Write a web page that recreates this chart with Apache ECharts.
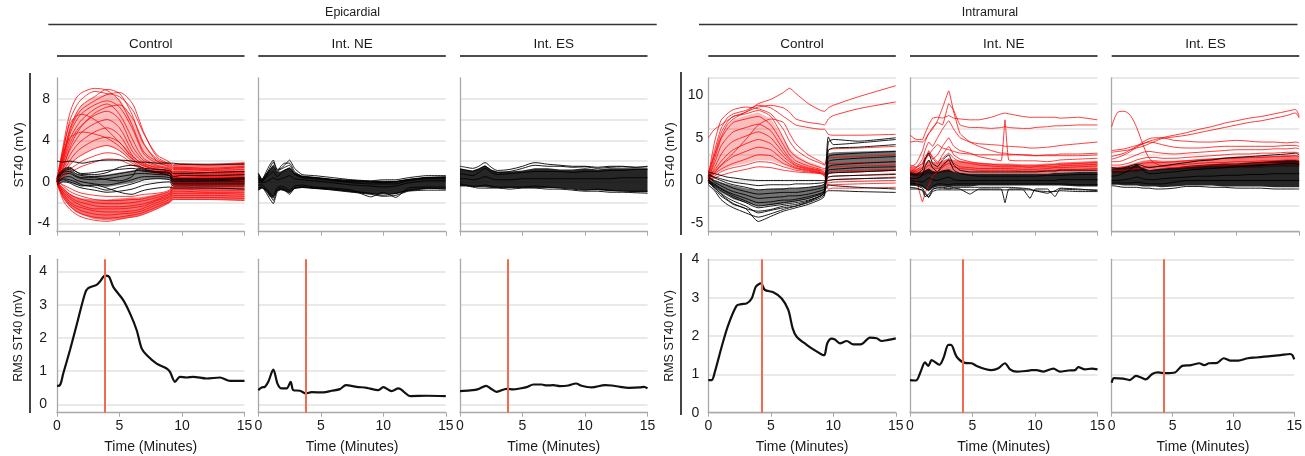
<!DOCTYPE html>
<html><head><meta charset="utf-8">
<script src="https://cdn.jsdelivr.net/npm/echarts@6/dist/echarts.min.js"></script>
<style>html,body{margin:0;padding:0;background:#fff}#c{width:1305px;height:456px}</style>
</head><body><div id="c"></div><script>
// ---------------- DATA ----------------
const GROUPS = ['Epicardial', 'Intramural'];
const CONDITIONS = ['Control', 'Int. NE', 'Int. ES'];
const X_TICKS = [0, 5, 10, 15];
const EPI_ST_LABELS = [-4, 0, 4, 8];
const EPI_ST_GRID = [-4, -2, 0, 2, 4, 6, 8];
const INTRA_ST_LABELS = [-5, 0, 5, 10];
const RMS_LABELS = [0, 1, 2, 3, 4];
const EVENT_EPI = 3.8;
const EVENT_INTRA = 4.25;

// Epicardial Control
const EC_T = [0, 0.5, 1, 1.5, 2, 3, 4, 5, 6, 6.5, 7, 8, 9, 9.3, 10, 12, 15];
const EC_RED = [
 [0.2, 3.5, 6.5, 8, 8.6, 9, 8.8, 7.8, 5.5, 4, 2.8, 2, 1.8, 1.6, 1.7, 1.6, 1.8],
 [0.1, 3, 5.8, 7.2, 8, 8.7, 8.5, 8.2, 7, 5.8, 4.5, 2.6, 1.9, 1.4, 1.4, 1.3, 1.5],
 [0, 2.6, 5, 6.5, 7.4, 8.2, 8.9, 8.5, 6.5, 4.8, 3.5, 2.2, 1.6, 1.2, 1.2, 1.1, 1.2],
 [0.3, 2.2, 4.5, 5.8, 6.6, 7.4, 7.8, 7.2, 5.2, 3.8, 2.6, 1.8, 1.5, 1, 1, 0.9, 1],
 [0, 2, 4, 5.2, 6, 7, 7.5, 6.5, 4.2, 3, 2.2, 1.6, 1.3, 0.8, 0.8, 0.7, 0.8],
 [0.2, 1.8, 3.6, 4.8, 5.5, 6.4, 6.8, 6, 3.5, 2.6, 2, 1.5, 1.2, 0.6, 0.6, 0.5, 0.6],
 [0, 1.5, 3, 4, 4.8, 5.6, 6, 5.2, 3, 2.3, 1.8, 1.3, 1, 0.5, 0.4, 0.4, 0.5],
 [0.1, 1.2, 2.5, 3.4, 4, 4.8, 5.2, 4.5, 2.6, 2, 1.6, 1.2, 1, 0.3, 0.3, 0.2, 0.3],
 [0, 1, 2, 2.8, 3.3, 4, 4.3, 3.8, 2.3, 1.8, 1.5, 1.1, 0.9, 0.2, 0.2, 0.1, 0.2],
 [0.2, 0.8, 1.6, 2.2, 2.6, 3.2, 3.5, 3, 2, 1.6, 1.3, 1, 0.8, 0, 0, 0, 0.1],
 [0, 0.6, 1.2, 1.6, 2, 2.5, 2.8, 2.6, 1.8, 1.5, 1.2, 0.9, 0.7, -0.1, -0.1, -0.2, 0],
 [0, 0.5, 0.9, 1.2, 1.5, 1.9, 2.2, 2.1, 1.6, 1.4, 1.1, 0.8, 0.6, -0.2, -0.3, -0.3, -0.2],
 [0.1, 2.4, 4.8, 6.2, 7, 7.8, 8.4, 8.6, 7.6, 6.2, 4.6, 2.4, 1.7, 1.3, 1.3, 1.2, 1.4],
 [0, 1.4, 3.2, 4.5, 5.4, 6.6, 7.2, 7.4, 6.2, 5, 3.6, 2, 1.4, 0.9, 0.9, 0.8, 0.9],
 [0.3, 3.2, 5.5, 6.3, 6.5, 6, 5, 3.8, 2.5, 2, 1.7, 1.4, 1.2, 0.7, 0.7, 0.6, 0.7],
 [0.1, 2.8, 4.2, 4.6, 4.8, 4.6, 4.2, 3.4, 2.2, 1.8, 1.5, 1.2, 1, 0.4, 0.4, 0.3, 0.4],
 [0, -1.8, -2.6, -3.1, -3.4, -3.7, -3.8, -3.6, -3.4, -3.3, -3.1, -2.6, -2, -1.7, -1.7, -1.7, -1.8],
 [0, -1.5, -2.3, -2.8, -3.1, -3.4, -3.5, -3.4, -3.2, -3.1, -2.9, -2.4, -1.9, -1.5, -1.5, -1.5, -1.6],
 [-0.2, -1.3, -2.1, -2.5, -2.8, -3.1, -3.2, -3.1, -3, -2.9, -2.7, -2.2, -1.7, -1.3, -1.3, -1.3, -1.4],
 [0, -1.1, -1.9, -2.3, -2.5, -2.8, -2.9, -2.9, -2.8, -2.7, -2.5, -2, -1.5, -1.1, -1.1, -1.1, -1.2],
 [0.1, -1, -1.6, -2, -2.3, -2.6, -2.6, -2.6, -2.5, -2.4, -2.3, -1.8, -1.4, -0.9, -0.9, -1, -1],
 [0, -0.8, -1.4, -1.8, -2, -2.3, -2.4, -2.4, -2.3, -2.2, -2.1, -1.7, -1.2, -0.7, -0.7, -0.8, -0.8],
 [0, -0.6, -1.2, -1.5, -1.7, -2, -2.1, -2.1, -2, -1.9, -1.8, -1.5, -1.1, -0.5, -0.5, -0.6, -0.6],
 [0.2, -0.4, -0.9, -1.2, -1.4, -1.7, -1.8, -1.8, -1.7, -1.7, -1.6, -1.3, -0.9, -0.3, -0.3, -0.4, -0.4],
 [0, -0.3, -0.6, -0.9, -1.1, -1.3, -1.4, -1.4, -1.4, -1.3, -1.2, -1.1, -0.8, -0.2, -0.2, -0.2, -0.2]
];
const EC_RED_BAND_UP = [0, -0.6, -1.1, -1.4, -1.6, -1.7, -1.7, -1.6, -1.5, -1.5, -1.4, -1.2, -0.9, -0.5, -0.5, -0.5, -0.5];
const EC_RED_BAND_LO = [-0.4, -1.6, -2.4, -2.9, -3.2, -3.6, -3.7, -3.6, -3.4, -3.3, -3.1, -2.6, -2.0, -1.7, -1.7, -1.7, -1.8];
const EC_FAN_T = [0, 0.5, 1, 1.5, 2, 3, 4, 5, 6, 6.5, 7, 8, 9];
const EC_FAN_UP = [0.2, 2.8, 5.2, 6.6, 7.4, 8.2, 8.5, 8, 6.2, 4.8, 3.4, 2.1, 1.6];
const EC_FAN_LO = [0, 0.8, 1.6, 2.2, 2.6, 3.2, 3.5, 3, 2, 1.6, 1.3, 1.0, 0.8];
const EC_LATE_T = [9.3, 10, 12, 15];
const EC_LATE_UP = [1.7, 1.8, 1.7, 1.9];
const EC_LATE_LO = [-0.5, -0.5, -0.5, -0.5];
const EC_BLACK = [
 [2, 1.9, 2, 1.9, 1.8, 2, 2.1, 2.1, 2, 1.9, 1.9, 1.8, 1.8, 1.8, 1.7, 1.7, 1.7],
 [0.5, 1.2, 1.4, 1, 0.8, 0.9, 1.1, 1.2, 1.3, 1.2, 1.1, 1, 0.9, 0.5, 0.6, 0.6, 0.7],
 [0.2, 1, 1.2, 0.8, 0.6, 0.5, 0.6, 0.8, 1, 1.1, 1, 0.9, 0.8, 0.3, 0.3, 0.3, 0.4],
 [0, 0.7, 0.8, 0.5, 0.3, 0.2, 0.3, 0.5, 0.7, 0.8, 0.8, 0.7, 0.6, 0.1, 0.1, 0.1, 0.2],
 [-0.2, 0.4, 0.5, 0.2, 0, -0.2, -0.3, -0.1, 0.2, 0.4, 0.5, 0.5, 0.4, 0, 0, 0, 0],
 [0.1, 0.3, 0.2, 0, -0.3, -0.5, -0.8, -0.5, -0.2, 0, 0.2, 0.3, 0.2, -0.2, -0.2, -0.2, -0.2],
 [-0.3, 0, -0.1, -0.4, -0.6, -0.8, -1, -0.9, -0.7, -0.5, -0.3, -0.1, 0, -0.4, -0.4, -0.4, -0.4],
 [0.3, 0.9, 1.0, 0.6, 0.4, 0.4, 0.2, 0.1, 0.5, 1.3, 1.2, 0.9, 0.6, 0.2, 0.2, 0.2, 0.3],
 [0, 0.2, 0, -0.2, -0.4, -0.3, -0.6, -1, -1.2, -1, -0.8, -0.6, -0.5, -0.6, -0.6, -0.6, -0.7],
 [0.4, 1.1, 1.3, 1, 0.7, 0.7, 0.9, 1.4, 1.6, 1.5, 1.3, 1.2, 1.1, 0.8, 0.8, 0.9, 1]
];
const EC_BLACK_BAND_UP = [0.5, 1.1, 1.2, 0.8, 0.6, 0.6, 0.7, 0.9, 1.1, 1.2, 1.1, 1.0, 0.9, 0.4, 0.4, 0.4, 0.5];
const EC_BLACK_BAND_LO = [-0.3, 0, 0, -0.3, -0.4, -0.4, -0.5, -0.3, -0.1, 0.1, 0.2, 0.3, 0.2, -0.3, -0.3, -0.3, -0.3];

// Epicardial Int. NE
const EN_T = [0, 0.3, 0.6, 0.9, 1.2, 1.5, 1.8, 2.1, 2.5, 2.9, 3.5, 4.5, 6, 7.5, 9, 10, 11, 12, 13.5, 15];
const EN_BLACK_BAND_UP = [0.9, 0.3, 0.8, 1.2, 1.6, 1.0, 1.0, 1.2, 1.4, 0.9, 0.6, 0.5, 0.3, 0.2, 0.1, 0.1, 0.1, 0.3, 0.5, 0.5];
const EN_BLACK_BAND_LO = [-0.8, -0.6, -0.9, -1.4, -1.6, -0.9, -0.8, -0.9, -1.1, -0.7, -0.6, -0.7, -0.8, -1.0, -1.2, -1.2, -1.2, -0.9, -0.7, -0.7];
const EN_BLACK = [
 [0.8, 0.2, 0.9, 1.6, 2.1, 1.2, 1.3, 1.6, 2.1, 1.3, 0.7, 0.6, 0.4, 0.2, 0.1, 0.2, 0.2, 0.4, 0.6, 0.6],
 [0.5, 0, 0.5, 1.1, 1.6, 0.9, 1.5, 1.8, 1.8, 1.0, 0.5, 0.4, 0.2, 0, 0, 0, 0, 0.2, 0.4, 0.4],
 [-0.6, -0.5, -1.0, -1.6, -2.1, -1.0, -0.7, -0.8, -1.2, -0.6, -0.5, -0.6, -0.7, -0.9, -1.1, -1.3, -1.1, -0.8, -0.6, -0.7],
 [-0.3, -0.3, -0.6, -1.0, -1.4, -0.6, -0.4, -0.5, -0.8, -0.4, -0.3, -0.5, -0.6, -0.8, -1.45, -1.0, -1.5, -0.6, -0.5, -0.5],
 [0.3, 0.1, 0.4, 0.7, 1.0, 0.5, 0.8, 1.1, 1.3, 0.7, 0.4, 0.3, 0.1, -0.1, -0.2, -0.2, -0.2, 0.1, 0.3, 0.3],
 [0, -0.1, 0, 0.2, 0.4, 0.2, 0.3, 0.4, 0.6, 0.3, 0.2, 0.1, -0.1, -0.3, -0.4, -0.5, -0.4, -0.1, 0.1, 0.1],
 [0.2, 0, 0.6, 1.3, 1.9, 1.1, 1.2, 1.4, 1.6, 0.8, 0.5, 0.4, 0.2, 0.1, 0, -0.1, 0, 0.2, 0.4, 0.5],
 [-0.8, -0.6, -0.7, -1.2, -1.8, -0.8, -0.6, -0.7, -1.0, -0.6, -0.5, -0.6, -0.8, -1.0, -1.2, -1.4, -1.3, -0.9, -0.8, -0.8]
];

// Epicardial Int. ES
const ES_T = [0, 0.5, 1, 1.5, 2, 2.5, 3, 4, 5, 6, 7, 8, 9, 10, 11, 12, 13, 14, 15];
const ES_BLACK_BAND_UP = [1.3, 1.2, 1.1, 1.3, 1.6, 1.2, 1.0, 1.0, 1.1, 1.3, 1.3, 1.2, 1.2, 1.3, 1.2, 1.3, 1.3, 1.3, 1.3];
const ES_BLACK_BAND_LO = [-0.4, -0.4, -0.5, -0.5, -0.5, -0.6, -0.6, -0.6, -0.6, -0.6, -0.6, -0.6, -0.7, -0.8, -0.8, -0.9, -0.9, -1.0, -1.0];
const ES_BLACK = [
 [1.5, 1.4, 1.3, 1.5, 1.85, 1.4, 1.1, 1.2, 1.5, 1.85, 1.7, 1.6, 1.5, 1.5, 1.4, 1.5, 1.5, 1.4, 1.5],
 [1.2, 1.1, 1.0, 1.2, 1.5, 1.1, 0.9, 1.0, 1.3, 1.6, 1.5, 1.5, 1.4, 1.45, 1.3, 1.4, 1.45, 1.4, 1.45],
 [-0.4, -0.4, -0.5, -0.6, -0.6, -0.6, -0.6, -0.7, -0.6, -0.6, -0.7, -0.7, -0.8, -0.9, -0.9, -1.0, -1.0, -1.05, -1.1],
 [-0.2, -0.3, -0.4, -0.4, -0.3, -0.4, -0.5, -0.5, -0.5, -0.4, -0.5, -0.6, -0.7, -0.8, -0.7, -0.8, -0.9, -0.9, -0.9],
 [0.8, 0.7, 0.6, 0.9, 1.3, 0.9, 0.7, 0.8, 0.9, 1.0, 1.0, 1.0, 0.9, 1.0, 1.0, 1.1, 1.1, 1.2, 1.2],
 [0.3, 0.3, 0.2, 0.3, 0.5, 0.3, 0.2, 0.2, 0.3, 0.3, 0.3, 0.3, 0.3, 0.3, 0.3, 0.3, 0.4, 0.4, 0.4]
];

// Intramural Control
const IC_T = [0, 0.5, 1, 1.5, 2, 3, 4, 5, 6, 6.5, 7, 8, 9, 9.3, 9.6, 10, 12, 15];
const IC_RED = [
 [5, 6, 6.5, 7, 7.5, 8, 9, 9.5, 10.3, 10.8, 10.2, 9, 8.2, 8.1, 8.5, 8.8, 9.8, 11.1],
 [1, 3, 5, 6.5, 7.2, 8, 8.6, 8.8, 8.5, 8, 7.2, 6.8, 6.6, 6.5, 7.2, 7.6, 8.4, 9.2],
 [0.5, 3.5, 6, 7.3, 7.8, 8.2, 8.8, 8.5, 7.5, 7, 6.5, 6.2, 6, 6, 5.4, 5.3, 5.3, 5.4],
 [0.3, 3, 5.5, 6.8, 7.5, 7.8, 8.2, 7.5, 5, 3.5, 2.8, 2, 1.5, 1.4, 1.5, 1.6, 1.7, 1.8],
 [0, 2.5, 4.8, 6, 6.8, 7.2, 7.5, 6.5, 4.2, 3, 2.3, 1.7, 1.3, 1.2, 0.8, 0.9, 1, 1.2],
 [0.2, 2, 4, 5, 5.7, 6.2, 6.6, 5.8, 3.6, 2.6, 2, 1.5, 1.2, 1, 0.4, 0.5, 0.6, 0.8],
 [0, 1.5, 3, 4, 4.6, 5.2, 5.7, 5, 3.2, 2.4, 1.8, 1.4, 1.1, 0.9, 0, 0.1, 0.2, 0.4],
 [0.4, 1.2, 2.2, 3, 3.6, 4.3, 4.8, 4.3, 2.8, 2.2, 1.7, 1.3, 1, 0.8, -0.3, -0.2, -0.1, 0],
 [0, 0.9, 1.7, 2.3, 2.8, 3.4, 3.9, 3.6, 2.4, 1.9, 1.5, 1.2, 0.9, 0.7, -0.6, -0.5, -0.4, -0.3],
 [0.2, 0.8, 1.3, 1.7, 2, 2.5, 3, 2.9, 2, 1.7, 1.4, 1.1, 0.9, 0.7, 2.0, 2.0, 2.1, 2.2],
 [0, 0.5, 1, 1.3, 1.5, 1.8, 2.2, 2.1, 1.6, 1.4, 1.2, 1, 0.8, 0.6, 1, 1.1, 1.2, 1.3],
 [0.5, 4.5, 7, 7.8, 8.3, 8.6, 8.4, 7.8, 6, 4.6, 3.6, 2.6, 2, 1.8, 3.6, 3.7, 3.8, 4],
 [0.3, 1, 1.8, 2.5, 3.2, 4.8, 6.5, 7.2, 6.8, 5.5, 4.3, 3, 2.2, 1.9, 2.6, 2.7, 2.8, 3],
 [0.1, 0.3, 0.6, 0.8, 1, 1.3, 1.6, 1.5, 1.2, 1.1, 1, 0.9, 0.8, 0.5, -1, -0.9, -0.9, -0.8]
];
const IC_FAN_T = [0, 0.5, 1, 1.5, 2, 3, 4, 5, 6, 6.5, 7, 8, 9];
const IC_FAN_UP = [0.3, 2.8, 5.2, 6.4, 7.1, 7.6, 8.0, 7.2, 5, 3.8, 3, 2.2, 1.7];
const IC_FAN_LO = [0, 0.6, 1.1, 1.4, 1.7, 2.0, 2.4, 2.3, 1.8, 1.5, 1.3, 1.1, 0.9];
const IC_BLACK = [
 [0, -1, -1.8, -2.3, -2.8, -3.3, -4.8, -4.2, -3.6, -3.4, -3.2, -2.8, -2.2, -1.8, 4.5, 4.8, 4.6, 5],
 [0.2, -0.8, -1.5, -2, -2.4, -3, -3.8, -3.5, -3.2, -3.1, -3, -2.6, -2, -1.6, 3.5, 3.8, 3.9, 4.2],
 [-0.3, -0.6, -1.2, -1.6, -2, -2.6, -3.2, -3, -2.8, -2.7, -2.6, -2.3, -1.8, -1.4, 2.8, 3, 3.2, 3.4],
 [0, -0.4, -0.9, -1.3, -1.6, -2.1, -2.6, -2.5, -2.3, -2.3, -2.2, -1.9, -1.5, -1.2, 2.2, 2.4, 2.6, 2.8],
 [0.5, -0.2, -0.6, -1, -1.3, -1.7, -2.1, -2, -1.9, -1.8, -1.8, -1.6, -1.2, -1, 1.6, 1.8, 2, 2.2],
 [0.3, 0, -0.3, -0.6, -0.9, -1.3, -1.6, -1.5, -1.4, -1.4, -1.4, -1.2, -0.9, -0.7, 1.2, 1.3, 1.5, 1.6],
 [0.8, 0.3, 0, -0.3, -0.5, -0.8, -1.1, -1, -1, -0.9, -0.9, -0.8, -0.6, -0.4, 0.8, 0.9, 1, 1.2],
 [0.6, 0.4, 0.2, 0, -0.2, -0.4, -0.6, -0.5, -0.5, -0.5, -0.4, -0.4, -0.3, -0.2, 0.4, 0.5, 0.6, 0.7],
 [1, 0.8, 0.6, 0.4, 0.3, 0.1, 0, 0, 0, 0, 0, 0, 0, 0, 0, 0.1, 0.2, 0.3],
 [-0.5, -1.2, -2.2, -2.8, -3.2, -3.8, -4.3, -3.9, -3.4, -3.2, -3, -2.5, -1.8, -1.2, 5.1, 4.2, 4.4, 4.8],
 [0, -0.5, -1, -1.4, -1.8, -2.4, -3, -2.8, -2.6, -2.5, -2.4, -2.1, -1.6, -1.3, -0.5, -0.6, -0.8, -1],
 [-0.2, -0.8, -1.6, -2.2, -2.7, -3.3, -3.6, -3.4, -3, -2.9, -2.8, -2.4, -1.8, -1.5, -1.2, -1.2, -1.3, -1.4]
];
const IC_BLACK_BAND_UP = [0.5, 0, -0.2, -0.4, -0.6, -0.9, -1.1, -1.0, -0.9, -0.9, -0.9, -0.8, -0.6, -0.4, 3.2, 3.3, 3.4, 3.5];
const IC_BLACK_BAND_LO = [-0.3, -0.8, -1.4, -1.8, -2.2, -2.6, -3.0, -2.9, -2.7, -2.6, -2.5, -2.2, -1.7, -1.3, 0.8, 0.9, 1.0, 1.1];

// Intramural Int. NE
const IN_T = [0, 0.5, 1, 1.2, 1.5, 1.8, 2.2, 2.6, 3.1, 3.5, 4, 4.8, 5.5, 6.5, 7.3, 7.6, 7.9, 9, 9.6, 10, 11, 11.6, 12, 13.5, 15];
const IN_RED = [
 [1.5, 2, 3.5, 4.5, 5.5, 6, 7, 8.5, 10.5, 8, 5.5, 4.5, 4, 3.5, 3.2, 3.2, 3.1, 3, 3, 2.9, 2.9, 2.9, 2.9, 2.9, 3.0],
 [5.3, 4.8, 4.8, 5.5, 6.5, 7.3, 7.4, 7.3, 7.6, 7.3, 7.2, 7.1, 7.1, 7.4, 7.8, 7.9, 7.8, 7.5, 7.4, 7.4, 7.4, 7.4, 7.3, 7.4, 7.1],
 [4.5, 4.6, 4.5, 4.8, 5.5, 6.2, 6.8, 6.5, 9.0, 8.2, 6.5, 6.2, 6.2, 6.1, 6.2, 6.3, 6.2, 6.1, 6.1, 6.2, 6.3, 6.4, 6.4, 6.5, 6.5],
 [1.0, 1.5, 2.5, 3.5, 4.5, 4.0, 5.0, 6.0, 7.0, 6.0, 5.0, 4.5, 4.3, 4.2, 4.1, 4.0, 4.0, 3.9, 3.8, 3.8, 3.9, 4.0, 4.1, 4.3, 4.5],
 [1.5, 1.5, 2, 2.6, 3, 2.5, 3, 4, 5, 4, 3.5, 3.2, 2.8, 2.5, 2.3, 7.1, 2.4, 2.3, 2.3, 2.3, 2.2, 2.3, 2.4, 2.5, 2.6],
 [1.2, 1.0, 1.5, 2.2, 3.5, 2.6, 2, 3, 4, 3, 2.5, 2.2, 2, 1.9, 1.8, 1.8, 1.8, 1.7, 1.7, 1.7, 1.8, 1.9, 1.9, 2.0, 2.1],
 [0.5, 0, -2.5, -1.5, -0.5, 0.5, 1, 1.5, 2.5, 2, 1.6, 1.5, 1.4, 1.4, 1.4, 1.4, 1.4, 1.3, 1.3, 1.3, 1.4, 1.5, 1.5, 1.6, 1.7],
 [1.8, 1.6, 2, 2.8, 3.3, 2.8, 2.2, 2.6, 3.2, 2.6, 2.2, 2.0, 1.8, 1.7, 1.6, 1.6, 1.6, 1.6, 1.5, 1.6, 1.6, 1.6, 1.7, 1.8, 1.9],
 [0.8, 0.8, 1.0, 1.4, 1.8, 1.5, 1.4, 1.6, 2.0, 1.6, 1.4, 1.3, 1.2, 1.2, 1.2, 1.2, 1.2, 1.1, 1.1, 1.1, 1.2, 1.2, 1.3, 1.3, 1.4],
 [1.0, 1.2, 1.8, 2.4, 3, 3.6, 4.2, 3.8, 3.6, 3.4, 3.2, 3.1, 3.0, 3.0, 3.0, 3.0, 3.0, 3.0, 2.9, 2.9, 3.0, 3.0, 3.1, 3.1, 3.2]
];
const IN_RED_BAND_UP = [1.5, 1.4, 1.6, 2, 2.4, 2.2, 2.1, 2.3, 2.6, 2.4, 2.3, 2.2, 2.1, 2.0, 2.0, 2.0, 2.0, 1.9, 1.9, 1.9, 2.0, 2.0, 2.1, 2.2, 2.3];
const IN_RED_BAND_LO = [0.6, 0.5, 0.5, 0.6, 0.8, 0.7, 0.8, 0.9, 1.0, 0.9, 0.9, 0.8, 0.8, 0.8, 0.8, 0.8, 0.8, 0.8, 0.8, 0.8, 0.8, 0.9, 0.9, 1.0, 1.0];
const IN_BLACK_BAND_UP = [1.0, 0.9, 1.0, 1.2, 1.4, 1.1, 1.0, 1.2, 1.3, 1.0, 0.9, 0.8, 0.8, 0.8, 0.8, 0.8, 0.8, 0.8, 0.8, 0.8, 0.8, 0.9, 0.9, 1.0, 1.0];
const IN_BLACK_BAND_LO = [-0.6, -0.6, -0.8, -1.0, -1.2, -0.9, -0.7, -0.7, -0.8, -0.7, -0.7, -0.7, -0.6, -0.6, -0.6, -0.6, -0.6, -0.6, -0.6, -0.6, -0.6, -0.6, -0.6, -0.7, -0.7];
const IN_BLACK = [
 [-0.8, -0.9, -1.2, -1.9, -1.6, -1.0, -0.9, -0.9, -1.0, -0.9, -1.0, -1.6, -1.0, -1.0, -1.0, -2.6, -1.0, -1.0, -2.1, -1.0, -1.0, -1.9, -1.0, -1.1, -1.1],
 [-0.5, -0.6, -0.9, -1.4, -1.9, -1.1, -0.8, -0.8, -0.9, -0.8, -0.8, -0.8, -0.8, -0.8, -0.8, -0.8, -0.8, -0.9, -1.0, -1.2, -1.5, -1.2, -0.9, -1.0, -1.2],
 [0.8, 0.7, 1.3, 2.5, 3.2, 2, 1.6, 2.4, 3.0, 1.8, 1.2, 1.0, 1.0, 1.0, 1.0, 1.0, 1.0, 1.0, 1.0, 1.0, 1.1, 1.1, 1.2, 1.2, 1.2],
 [0.3, 0.2, 0.6, 1.6, 2.4, 1.5, 1.0, 1.8, 2.4, 1.2, 0.8, 0.6, 0.5, 0.5, 0.5, 0.5, 0.5, 0.5, 0.5, 0.5, 0.6, 0.6, 0.6, 0.7, 0.7],
 [0, -0.1, -0.2, 0, 0.3, 0.1, 0, 0.2, 0.4, 0.1, 0, 0, 0, 0, 0, 0, 0, 0, 0, 0, 0, 0, 0.1, 0.1, 0.1],
 [-0.3, -0.4, -0.6, -0.9, -1.2, -0.7, -0.4, -0.4, -0.5, -0.4, -0.4, -0.4, -0.4, -0.4, -0.4, -0.4, -0.4, -0.4, -0.4, -0.4, -0.4, -0.4, -0.4, -0.5, -0.5],
 [-1.0, -1.0, -1.1, -1.6, -2.0, -1.3, -1.1, -1.1, -1.1, -1.1, -1.1, -1.1, -1.1, -1.1, -1.1, -1.1, -1.1, -1.1, -1.1, -1.2, -1.3, -1.3, -1.2, -1.3, -1.3]
];

// Intramural Int. ES
const IS_T = [0, 0.5, 1, 1.5, 2, 2.5, 3, 3.5, 4, 5, 6, 7, 8, 9, 10, 11, 12, 13, 14, 14.7, 15];
const IS_RED = [
 [6.3, 8.0, 8.1, 7.6, 6.2, 4.2, 2.6, 2.0, 1.7, 1.5, 1.6, 1.7, 1.8, 1.8, 1.9, 1.9, 2.0, 2.0, 2.0, 2.0, 2.0],
 [3.5, 3.6, 3.7, 3.9, 4.1, 4.3, 4.6, 4.8, 5.0, 5.3, 5.6, 6.0, 6.3, 6.7, 7.0, 7.3, 7.5, 7.8, 8.1, 8.3, 7.5],
 [3.3, 3.4, 3.5, 3.6, 3.8, 4.0, 4.3, 4.6, 4.9, 5.1, 5.3, 5.6, 5.9, 6.2, 6.5, 6.8, 7.0, 7.3, 7.6, 7.9, 7.3],
 [2.8, 3.0, 3.2, 3.6, 4.0, 4.5, 4.9, 5.0, 5.0, 4.7, 4.6, 4.5, 4.5, 4.6, 4.7, 4.6, 4.5, 4.5, 4.4, 4.5, 4.4],
 [2.5, 2.7, 3.0, 3.4, 3.9, 4.3, 4.5, 4.4, 4.2, 3.9, 3.8, 3.8, 3.9, 4.0, 4.0, 4.0, 4.0, 4.0, 4.1, 4.1, 4.0],
 [2.2, 2.2, 2.4, 2.7, 3.0, 3.3, 3.4, 3.3, 3.2, 3.1, 3.2, 3.3, 3.4, 3.5, 3.6, 3.6, 3.6, 3.7, 3.7, 3.8, 3.7],
 [1.8, 1.8, 1.9, 2.1, 2.4, 2.6, 2.7, 2.7, 2.6, 2.6, 2.7, 2.8, 2.9, 3.0, 3.1, 3.1, 3.2, 3.2, 3.3, 3.3, 3.2],
 [1.5, 1.5, 1.6, 1.7, 1.9, 2.0, 2.1, 2.1, 2.1, 2.2, 2.3, 2.4, 2.5, 2.6, 2.6, 2.7, 2.7, 2.8, 2.8, 2.9, 2.8],
 [1.2, 1.2, 1.2, 1.3, 1.4, 1.5, 1.6, 1.6, 1.7, 1.8, 1.9, 2.0, 2.1, 2.1, 2.2, 2.2, 2.3, 2.3, 2.4, 2.4, 2.3]
];
const IS_RED_BAND_UP = [1.6, 1.6, 1.7, 1.9, 2.1, 2.3, 2.4, 2.4, 2.3, 2.3, 2.4, 2.5, 2.6, 2.7, 2.8, 2.8, 2.9, 2.9, 3.0, 3.0, 2.9];
const IS_RED_BAND_LO = [0.9, 0.9, 0.9, 1.0, 1.0, 1.1, 1.1, 1.1, 1.2, 1.2, 1.3, 1.3, 1.4, 1.4, 1.5, 1.5, 1.5, 1.6, 1.6, 1.6, 1.6];
const IS_BLACK_BAND_UP = [1.4, 1.4, 1.5, 1.6, 1.8, 1.5, 1.2, 1.3, 1.4, 1.5, 1.7, 1.8, 1.9, 2.0, 2.0, 2.1, 2.2, 2.3, 2.4, 2.4, 2.3];
const IS_BLACK_BAND_LO = [-0.5, -0.5, -0.6, -0.6, -0.6, -0.7, -0.7, -0.7, -0.8, -0.7, -0.6, -0.6, -0.6, -0.7, -0.7, -0.7, -0.7, -0.8, -0.8, -0.8, -0.8];
const IS_BLACK = [
 [-0.6, -0.7, -0.8, -0.8, -0.8, -0.9, -0.9, -1.0, -1.0, -0.9, -0.7, -0.7, -0.8, -0.8, -0.9, -0.9, -0.9, -1.0, -1.0, -1.0, -1.0],
 [0.5, 0.6, 0.9, 1.3, 1.8, 1.2, 0.8, 0.8, 0.9, 1.0, 1.2, 1.3, 1.4, 1.5, 1.6, 1.7, 1.8, 1.9, 2.0, 2.0, 1.9],
 [1.5, 1.4, 1.5, 1.7, 1.9, 1.7, 1.5, 1.6, 1.7, 1.9, 2.1, 2.3, 2.4, 2.6, 2.7, 2.8, 2.9, 3.0, 3.1, 3.2, 3.0],
 [0, 0, 0.1, 0.2, 0.4, 0.2, 0.1, 0.1, 0.2, 0.3, 0.4, 0.5, 0.5, 0.6, 0.6, 0.7, 0.7, 0.8, 0.8, 0.8, 0.8],
 [-0.3, -0.3, -0.3, -0.3, -0.2, -0.3, -0.4, -0.4, -0.4, -0.2, 0, 0, 0, 0, 0, 0, 0, 0, 0, 0, 0]
];

// RMS ST40
const RMS_EC_T = [0, 0.24, 0.5, 1.04, 1.57, 2.24, 2.5, 3.17, 3.44, 3.84, 4.16, 4.5, 5.3, 5.84, 6.37, 6.77, 7.17, 7.97, 8.77, 9.04, 9.44, 9.84, 10.37, 10.9, 11.97, 13.04, 13.84, 15];
const RMS_EC_V = [0.56, 0.58, 0.93, 1.64, 2.39, 3.34, 3.5, 3.6, 3.7, 3.88, 3.85, 3.54, 3.14, 2.74, 2.24, 1.69, 1.49, 1.23, 1.08, 0.98, 0.68, 0.83, 0.81, 0.83, 0.78, 0.81, 0.71, 0.71];
const RMS_EN_T = [0, 0.27, 0.53, 0.8, 1.2, 1.55, 1.87, 2.27, 2.59, 2.8, 3.33, 3.81, 4.27, 5.2, 5.87, 6.53, 7.01, 7.87, 8.67, 9.6, 10, 10.67, 11.2, 12.19, 13.47, 15];
const RMS_EN_V = [0.43, 0.51, 0.53, 0.68, 1.05, 0.61, 0.48, 0.48, 0.68, 0.43, 0.41, 0.33, 0.37, 0.36, 0.41, 0.46, 0.58, 0.53, 0.5, 0.43, 0.52, 0.4, 0.48, 0.25, 0.26, 0.25];
const RMS_ES_T = [0, 0.8, 1.47, 2.08, 2.45, 2.93, 3.73, 4.27, 4.8, 5.33, 5.87, 6.53, 6.93, 7.47, 8, 8.67, 9.28, 9.73, 10.53, 11.6, 12.13, 12.8, 13.47, 14.4, 14.72, 15];
const RMS_ES_V = [0.4, 0.42, 0.46, 0.56, 0.48, 0.38, 0.47, 0.45, 0.48, 0.52, 0.6, 0.6, 0.57, 0.58, 0.55, 0.57, 0.63, 0.56, 0.51, 0.58, 0.57, 0.53, 0.5, 0.51, 0.53, 0.48];
const RMS_IC_T = [0, 0.27, 0.53, 1.07, 1.6, 2.27, 2.67, 3.07, 3.47, 3.81, 4.21, 4.53, 5.2, 5.87, 6.4, 6.75, 7.07, 7.87, 8.4, 9.07, 9.28, 9.52, 9.87, 10.13, 10.53, 11.07, 11.6, 12.27, 12.93, 13.47, 13.87, 14.4, 15];
const RMS_IC_V = [0.85, 0.85, 1.07, 1.72, 2.29, 2.79, 2.83, 2.85, 2.98, 3.29, 3.37, 3.2, 3.14, 2.98, 2.68, 2.2, 1.98, 1.77, 1.65, 1.52, 1.5, 1.81, 1.93, 1.91, 1.81, 1.87, 1.78, 1.79, 1.96, 1.94, 1.87, 1.9, 1.94];
const RMS_IN_T = [0, 0.48, 0.85, 1.2, 1.47, 1.73, 2.35, 2.67, 3.07, 3.28, 3.73, 4.4, 4.93, 5.33, 6, 6.53, 7.07, 7.6, 8, 8.53, 9.33, 9.73, 10.13, 10.67, 11.47, 12, 12.67, 13.2, 13.47, 14, 14.53, 15];
const RMS_IN_V = [0.85, 0.84, 1.07, 1.31, 1.22, 1.37, 1.25, 1.42, 1.77, 1.77, 1.46, 1.3, 1.29, 1.22, 1.14, 1.11, 1.16, 1.29, 1.13, 1.07, 1.09, 1.11, 1.11, 1.07, 1.15, 1.07, 1.1, 1.11, 1.19, 1.13, 1.15, 1.13];
const RMS_IS_T = [0, 0.19, 0.93, 1.47, 2, 2.4, 2.8, 3.33, 3.81, 4.4, 5.2, 5.79, 6.53, 7.2, 7.6, 8, 8.67, 9.2, 9.73, 10.4, 11.2, 11.87, 12.53, 13.2, 13.87, 14.67, 14.85, 15];
const RMS_IS_V = [0.78, 0.9, 0.89, 0.85, 0.96, 0.92, 0.87, 1.01, 1.05, 1.03, 1.05, 1.22, 1.24, 1.29, 1.24, 1.29, 1.3, 1.42, 1.36, 1.36, 1.42, 1.44, 1.46, 1.48, 1.5, 1.53, 1.5, 1.39];

// ---------------- CHART ----------------
const FONT = '"Liberation Sans", Arial, Helvetica, sans-serif';
const RED = 'rgba(250,0,0,0.85)';
const RED_FILL = 'rgba(240,20,20,0.6)';
const RED_FAN = 'rgba(240,20,20,0.28)';
const BLACK = '#000';
const BLACK_FILL = 'rgba(0,0,0,0.85)';
const EVENT_COLOR = '#f26b50';
const LEFTS = [57, 258.3, 460, 708.3, 910, 1111.7];
const W = 187.5;

const TOP = [
  { T: EC_T, smooth: 0.3, red: EC_RED, black: EC_BLACK,
    bands: [{T: EC_T, up: EC_RED_BAND_UP, lo: EC_RED_BAND_LO, c: RED_FILL},
            {T: EC_FAN_T, up: EC_FAN_UP, lo: EC_FAN_LO, c: RED_FAN},
            {T: EC_LATE_T, up: EC_LATE_UP, lo: EC_LATE_LO, c: RED_FILL},
            {T: EC_T, up: EC_BLACK_BAND_UP, lo: EC_BLACK_BAND_LO, c: 'rgba(0,0,0,0.5)'}] },
  { T: EN_T, smooth: 0.15, red: [], black: EN_BLACK,
    bands: [{T: EN_T, up: EN_BLACK_BAND_UP, lo: EN_BLACK_BAND_LO, c: BLACK_FILL}] },
  { T: ES_T, smooth: 0.3, red: [], black: ES_BLACK,
    bands: [{T: ES_T, up: ES_BLACK_BAND_UP, lo: ES_BLACK_BAND_LO, c: BLACK_FILL}] },
  { T: IC_T, smooth: 0.2, red: IC_RED, black: IC_BLACK,
    bands: [{T: IC_FAN_T, up: IC_FAN_UP, lo: IC_FAN_LO, c: RED_FAN},
            {T: IC_T, up: IC_BLACK_BAND_UP, lo: IC_BLACK_BAND_LO, c: 'rgba(0,0,0,0.55)'}] },
  { T: IN_T, smooth: 0.1, red: IN_RED, black: IN_BLACK,
    bands: [{T: IN_T, up: IN_RED_BAND_UP, lo: IN_RED_BAND_LO, c: RED_FILL},
            {T: IN_T, up: IN_BLACK_BAND_UP, lo: IN_BLACK_BAND_LO, c: BLACK_FILL}] },
  { T: IS_T, smooth: 0.3, red: IS_RED, black: IS_BLACK,
    bands: [{T: IS_T, up: IS_RED_BAND_UP, lo: IS_RED_BAND_LO, c: RED_FILL},
            {T: IS_T, up: IS_BLACK_BAND_UP, lo: IS_BLACK_BAND_LO, c: BLACK_FILL}] }
];
const BOTTOM = [
  {T: RMS_EC_T, V: RMS_EC_V, ev: EVENT_EPI}, {T: RMS_EN_T, V: RMS_EN_V, ev: EVENT_EPI}, {T: RMS_ES_T, V: RMS_ES_V, ev: EVENT_EPI},
  {T: RMS_IC_T, V: RMS_IC_V, ev: EVENT_INTRA}, {T: RMS_IN_T, V: RMS_IN_V, ev: EVENT_INTRA}, {T: RMS_IS_T, V: RMS_IS_V, ev: EVENT_INTRA}
];

const grids = [], xAxes = [], yAxes = [], series = [];
for (let r = 0; r < 2; r++) {
  for (let c = 0; c < 6; c++) {
    const i = r * 6 + c;
    const epi = c < 3;
    const first = c === 0 || c === 3;
    grids.push(r === 0 ? {left: LEFTS[c], top: 78, width: W, height: 153.7}
                       : {left: LEFTS[c], top: 259.3, width: W, height: 153.4});
    xAxes.push({
      type: 'value', gridIndex: i, min: 0, max: 15, interval: 5,
      axisLine: {show: true, onZero: false, lineStyle: {color: '#a9a9a9', width: 1.3}},
      axisTick: {show: true, length: 4, lineStyle: {color: '#a9a9a9'}},
      axisLabel: {show: r === 1, fontSize: 14, color: '#1a1a1a', margin: 6, fontFamily: FONT},
      splitLine: {show: false},
      name: r === 1 ? 'Time (Minutes)' : '', nameLocation: 'middle', nameGap: 27,
      nameTextStyle: {fontSize: 14, color: '#1a1a1a', fontFamily: FONT}
    });
    const y = {
      type: 'value', gridIndex: i,
      axisLine: {show: true, lineStyle: {color: '#a9a9a9', width: 1.3}},
      splitLine: {show: true, lineStyle: {color: '#e2e2e2', width: 1.5}},
      nameLocation: 'middle', nameRotate: 90,
      nameTextStyle: {color: '#1a1a1a', fontFamily: FONT},
      axisLabel: {show: first, fontSize: 14, color: '#1a1a1a', fontFamily: FONT}
    };
    if (r === 0 && epi) {
      Object.assign(y, {min: -4.8, max: 10});
      y.axisTick = {show: false, customValues: EPI_ST_GRID};
      y.axisLabel.customValues = EPI_ST_LABELS; y.axisLabel.margin = 7;
    } else if (r === 0) {
      Object.assign(y, {min: -6, max: 12, interval: 3});
      y.axisTick = {show: false};
      y.axisLabel.customValues = INTRA_ST_LABELS; y.axisLabel.margin = 5;
    } else if (epi) {
      Object.assign(y, {min: -0.25, max: 4.37});
      y.axisTick = {show: false, customValues: RMS_LABELS};
      y.axisLabel.customValues = RMS_LABELS; y.axisLabel.margin = 10;
    } else {
      Object.assign(y, {min: 0, max: 4, interval: 1});
      y.axisTick = {show: false};
      y.axisLabel.margin = 9;
    }
    if (first) {
      y.name = r === 0 ? 'ST40 (mV)' : 'RMS ST40 (mV)';
      y.nameGap = r === 0 ? 31 : 32;
      y.nameTextStyle.fontSize = r === 0 ? 13.5 : 12.5;
    }
    yAxes.push(y);

    if (r === 0) {
      const p = TOP[c];
      p.bands.forEach(b => series.push({
        type: 'custom', coordinateSystem: 'cartesian2d', xAxisIndex: i, yAxisIndex: i,
        data: [[0, 0]], silent: true, animation: false, clip: true, z: 2,
        renderItem: (params, api) => {
          const pts = [];
          for (let k = 0; k < b.T.length; k++) pts.push(api.coord([b.T[k], b.up[k]]));
          for (let k = b.T.length - 1; k >= 0; k--) pts.push(api.coord([b.T[k], b.lo[k]]));
          return {type: 'polygon', shape: {points: pts}, style: {fill: b.c}};
        }
      }));
      const addLine = (vals, color) => series.push({
        type: 'line', xAxisIndex: i, yAxisIndex: i, data: p.T.map((t, k) => [t, vals[k]]),
        symbol: 'none', showSymbol: false, smooth: p.smooth, silent: true, animation: false, z: 3,
        lineStyle: {color, width: 0.9}
      });
      p.red.forEach(v => addLine(v, RED));
      p.black.forEach(v => addLine(v, BLACK));
    } else {
      const b = BOTTOM[c];
      series.push({
        type: 'line', xAxisIndex: i, yAxisIndex: i, data: b.T.map((t, k) => [t, b.V[k]]),
        symbol: 'none', showSymbol: false, smooth: 0.3, silent: true, animation: false, z: 3,
        lineStyle: {color: '#111', width: 2.2},
        markLine: {silent: true, symbol: 'none', label: {show: false}, animation: false,
          lineStyle: {color: EVENT_COLOR, width: 2, type: 'solid'}, data: [{xAxis: b.ev}]}
      });
    }
  }
}

// headers and decorations
const graphic = [];
const txt = (x, y, s, size) => graphic.push({type: 'text', x, y, silent: true,
  style: {text: s, fontSize: size, fontFamily: FONT, fill: '#1a1a1a', align: 'center', verticalAlign: 'middle'}});
const ln = (x1, y1, x2, y2, color, w) => graphic.push({type: 'line', silent: true,
  shape: {x1, y1, x2, y2}, style: {stroke: color, lineWidth: w}});
txt(352.5, 13, GROUPS[0], 12.5); ln(48.3, 24.5, 656.7, 24.5, '#333', 1.5);
txt(990, 13, GROUPS[1], 12.5); ln(699, 24.5, 1297.5, 24.5, '#333', 1.5);
for (let c = 0; c < 6; c++) {
  txt(LEFTS[c] + W / 2, 44, CONDITIONS[c % 3], 13.5);
  ln(LEFTS[c], 56, LEFTS[c] + W, 56, '#111', 1.4);
}
ln(30, 73, 30, 235, '#444', 2); ln(30, 255, 30, 413, '#444', 2);
ln(681, 72, 681, 235, '#444', 2); ln(681, 253, 681, 415, '#444', 2);

const chart = echarts.init(document.getElementById('c'), null, {renderer: 'canvas'});
chart.setOption({animation: false, backgroundColor: '#fff', grid: grids, xAxis: xAxes, yAxis: yAxes, series, graphic});
</script></body></html>
